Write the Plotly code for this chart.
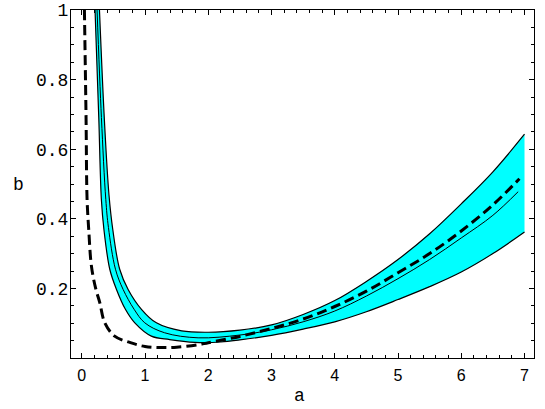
import plotly.graph_objects as go

# Daten
a_ober = [0.28, 0.359, 0.43, 0.49, 0.60, 0.733, 0.944, 1.18, 1.58, 2.0, 2.5, 3.0, 3.5, 4.0, 4.5, 5.0, 5.5, 6.0, 6.5, 7.0]
b_ober = [1.0, 0.68, 0.47, 0.37, 0.255, 0.197, 0.14, 0.101, 0.078, 0.074, 0.080, 0.095, 0.125, 0.165, 0.22, 0.283, 0.357, 0.443, 0.535, 0.643]

a_unter = [0.21, 0.269, 0.31, 0.35, 0.443, 0.549, 0.69, 0.839, 1.10, 1.39, 1.79, 2.2, 2.5, 3.0, 3.5, 4.0, 4.5, 5.0, 5.5, 6.0, 6.5, 7.0]
b_unter = [1.0, 0.691, 0.456, 0.37, 0.255, 0.197, 0.14, 0.101, 0.063, 0.053, 0.045, 0.046, 0.052, 0.065, 0.083, 0.104, 0.133, 0.168, 0.205, 0.247, 0.30, 0.362]

a_mitte = [0.242, 0.311, 0.38, 0.422, 0.533, 0.654, 0.828, 0.997, 1.31, 1.84, 2.5, 3.0, 3.5, 4.0, 4.5, 5.0, 5.5, 6.0, 6.5, 6.9]
b_mitte = [1.0, 0.691, 0.456, 0.375, 0.255, 0.197, 0.14, 0.101, 0.0725, 0.058, 0.066, 0.081, 0.104, 0.135, 0.178, 0.228, 0.283, 0.345, 0.41, 0.478]

a_gestr = [0.042, 0.068, 0.084, 0.11, 0.153, 0.22, 0.285, 0.364, 0.52, 0.77, 1.0, 1.25, 1.5, 1.84, 2.0, 2.5, 3.0, 3.5, 4.0, 4.5, 5.0, 5.5, 6.0, 6.5, 6.92]
b_gestr = [1.0, 0.691, 0.456, 0.37, 0.264, 0.20, 0.159, 0.101, 0.063, 0.044, 0.033, 0.030, 0.031, 0.038, 0.044, 0.062, 0.085, 0.112, 0.148, 0.192, 0.245, 0.30, 0.365, 0.44, 0.515]

x_ticks = [0, 1, 2, 3, 4, 5, 6, 7]
y_ticks = [0.2, 0.4, 0.6, 0.8, 1.0]
y_labels = ["0.2", "0.4", "0.6", "0.8", "1"]

data = [
    go.Scatter(x=a_unter, y=b_unter, mode="lines", line=dict(color="black", width=1.2, shape="spline", smoothing=1)),
    go.Scatter(x=a_ober, y=b_ober, mode="lines", fill="tonexty", fillcolor="#00FFFF",
               line=dict(color="black", width=1.2, shape="spline", smoothing=1)),
    go.Scatter(x=a_mitte, y=b_mitte, mode="lines", line=dict(color="black", width=1, shape="spline", smoothing=1)),
    go.Scatter(x=a_gestr, y=b_gestr, mode="lines", line=dict(color="black", width=3, dash="10px,5px", shape="spline", smoothing=1)),
]

achse = dict(showline=True, linecolor="black", linewidth=1, mirror="allticks", ticks="inside",
             tickcolor="black", tickwidth=1, showgrid=False, zeroline=False, automargin=False)

# Plotfläche in Pixeln
L, R, T, B = 71, 11, 10, 51
W, H = 545, 409
pw, ph = W - L - R, H - T - B

layout = go.Layout(
    width=W, height=H,
    margin=dict(l=L, r=R, t=T, b=B),
    paper_bgcolor="white", plot_bgcolor="white",
    showlegend=False,
    xaxis=dict(achse, range=[-0.17, 7.15], tickvals=x_ticks, ticklen=5, ticklabelstandoff=3,
               minor=dict(dtick=0.2, ticks="inside", ticklen=3, tickcolor="black", showgrid=False),
               tickfont=dict(family="Liberation Sans", size=16, color="black")),
    yaxis=dict(achse, range=[0, 1], tickvals=y_ticks, ticktext=y_labels, ticklen=5, ticklabelstandoff=-2,
               minor=dict(dtick=0.05, ticks="inside", ticklen=3, tickcolor="black", showgrid=False),
               tickfont=dict(family="Liberation Mono", size=18, color="black")),
    annotations=[
        dict(text="b", x=(18 - L) / pw, y=1 - (185 - T) / ph, xref="paper", yref="paper", showarrow=False,
             xanchor="center", yanchor="middle", font=dict(family="Liberation Mono", size=18, color="black")),
        dict(text="a", x=(299 - L) / pw, y=1 - (396 - T) / ph, xref="paper", yref="paper", showarrow=False,
             xanchor="center", yanchor="middle", font=dict(family="Liberation Mono", size=18, color="black")),
    ],
)

fig = go.Figure(data=data, layout=layout)
# Seitenrand des Browsers entfernen
fig.write_html("out.html", config={"displayModeBar": False},
               post_script="document.body.style.margin='0px';")
